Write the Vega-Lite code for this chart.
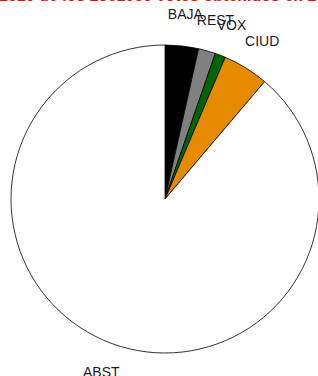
{
  "$schema": "https://vega.github.io/schema/vega-lite/v6.json",
  "autosize": "none",
  "padding": 0,
  "width": 330,
  "height": 398,
  "background": "white",
  "title": {
    "text": "2019 de los 2561000 votos obtenidos en 2019",
    "anchor": "start",
    "frame": "group",
    "orient": "top",
    "offset": 0,
    "baseline": "alphabetic",
    "dx": -1,
    "dy": 17,
    "color": "#FF0000",
    "font": "Liberation Sans",
    "fontSize": 16,
    "fontWeight": "bold"
  },
  "data": {
    "values": [
      {"partido": "BAJA", "pct": 3.5, "ord": 1},
      {"partido": "REST", "pct": 1.8, "ord": 2},
      {"partido": "VOX", "pct": 1.1, "ord": 3},
      {"partido": "CIUD", "pct": 4.8, "ord": 4},
      {"partido": "ABST", "pct": 88.8, "ord": 5}
    ]
  },
  "encoding": {
    "theta": {"field": "pct", "type": "quantitative", "stack": true},
    "order": {"field": "ord", "type": "quantitative"}
  },
  "layer": [
    {
      "mark": {"type": "arc", "radius": 154, "stroke": "black", "strokeWidth": 0.8},
      "encoding": {
        "color": {
          "field": "partido",
          "type": "nominal",
          "scale": {
            "domain": ["BAJA", "REST", "VOX", "CIUD", "ABST"],
            "range": ["#000000", "#808080", "#006400", "#E68A00", "#FFFFFF"]
          },
          "legend": null
        }
      }
    },
    {
      "mark": {"type": "text", "radius": 185, "font": "Liberation Sans", "fontSize": 14, "color": "#1a1a2e", "align": "center", "baseline": "middle"},
      "encoding": {
        "text": {"field": "partido", "type": "nominal"}
      }
    }
  ]
}
